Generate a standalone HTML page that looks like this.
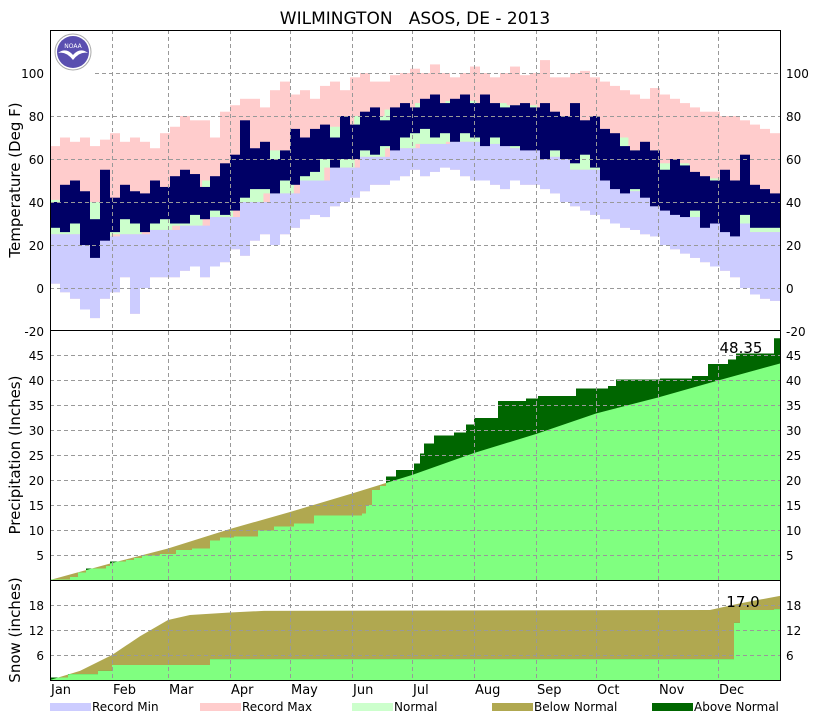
<!DOCTYPE html>
<html><head><meta charset="utf-8"><style>
body{margin:0;background:#fff;}
svg text{font-family:"DejaVu Sans","Liberation Sans",sans-serif;}
</style></head><body>
<svg id="c" width="830" height="720" xmlns="http://www.w3.org/2000/svg"></svg>
<script>
// ---- data ----
const months=["Jan","Feb","Mar","Apr","May","Jun","Jul","Aug","Sep","Oct","Nov","Dec"];
const monthStartDays=[0,31,59,90,120,151,181,212,243,273,304,334];
const tempTicks=[-20,0,20,40,60,80,100];
const precipTicks=[5,10,15,20,25,30,35,40,45];
const snowTicks=[6,12,18];
// 5-day bins (73)
const recMax=[66,70,68,70,66,69, 72,68,70,68,65,72, 75,80,78,78,70,82, 85,88,88,84,92,96, 90,92,88,94,96,92, 98,100,96,96,99,100, 102,100,104,100,98,100, 103,100,98,100,103,99, 100,106,98,98,100,101, 98,96,94,92,90,88, 93,90,88,86,84,82, 82,80,80,78,76,74, 72];
const recMin=[2,-2,-5,-10,-14,-5, -2,5,-12,0,5,5, 5,8,10,5,10,12, 18,15,22,25,20,25, 28,32,34,33,38,40, 42,45,48,48,50,52, 55,52,54,56,55,52, 50,50,48,46,50,48, 48,46,44,40,38,36, 34,32,30,28,27,25, 24,20,18,16,14,12, 10,8,5,0,-3,-5, -6];
const actHigh=[40,48,50,45,32,55, 42,48,45,44,50,47, 52,55,53,47,52,58, 62,78,65,68,60,64, 74,70,74,76,70,80, 76,82,84,78,84,86, 84,88,90,86,88,90, 86,90,86,84,85,86, 84,86,82,80,86,78, 80,74,72,66,64,68, 64,55,60,57,54,52, 50,55,50,62,48,46, 44];
const actLow=[28,26,30,20,14,22, 26,32,30,26,30,32, 30,30,34,32,36,34, 36,42,46,46,44,50, 48,52,54,60,56,60, 60,64,62,66,64,70, 72,74,70,72,68,72, 70,66,70,66,66,64, 64,60,64,60,58,62, 56,50,46,44,46,42, 38,36,34,33,36,28, 30,26,24,34,28,28, 28];
// half-month normals (24)
const normHigh=[41,40,41,43,46,50,58,64,70,75,80,83,86,87,86,85,80,76,70,64,58,51,47,42];
const normLow=[25,24,25,27,29,33,40,44,50,56,61,65,67,68,67,65,61,55,50,45,38,33,30,26];
// precipitation cumulative
const precipNormMonthly=[0,3.4,6.3,10.2,13.6,17.3,21.0,25.4,29.2,33.3,36.5,39.9,43.3];
const precipObsDays=[0,10,14,18,28,30,38,42,46,55,63,71,80,85,92,104,112,122,132,156,158,161,165,168,173,182,185,187,192,202,208,212,224,238,244,263,279,283,305,321,329,339,343,362];
const precipObsVals=[0.1,0.6,1.5,2.3,2.8,3.7,4.0,4.4,4.9,5.2,6.0,6.3,7.9,8.5,8.7,9.9,10.7,11.3,12.9,13.3,15.0,18.0,18.8,20.7,22.0,23.3,25.3,27.3,28.9,29.5,31.1,32.4,35.8,36.3,36.8,38.3,38.8,40.1,40.3,40.8,43.2,44.1,45.3,48.35];
// snow cumulative
const snowNormDays=[0,15,31,45,59,70,90,107,330,345,365];
const snowNormVals=[0,2.2,6.0,10.5,14.4,15.6,16.2,16.6,16.8,18.4,20.2];
const snowObsDays=[0,9,24,31,80,342,345,362];
const snowObsVals=[0.6,1.4,2.2,3.6,5.0,13.7,16.8,17.0];

// ---- geometry ----
const X0=50,X1=780;
const xd=d=>X0+d*2;
const yT=t=>331-(t+20)*2.15;
const yP=p=>580-p*5;
const yS=s=>680-s*25/6;
const svg=document.getElementById('c');
const NS='http://www.w3.org/2000/svg';
function mk(tag,attrs,name,parent){const e=document.createElementNS(NS,tag);for(const k in attrs)e.setAttribute(k,attrs[k]);


(parent||svg).appendChild(e);return e;}
function txt(x,y,s,size,anchor,name,extra){const t=mk('text',Object.assign({x:x,y:y,'font-size':size,'text-anchor':anchor||'start',fill:'#000'},extra||{}),name);t.textContent=s;return t;}

// ---- temperature panel ----
const gT=mk('g',{},'temperature-panel');
const binDays=5;
recMax.forEach((v,i)=>{mk('rect',{x:xd(i*binDays),y:yT(v),width:Math.min(10,X1-xd(i*binDays)),height:yT(recMin[i])-yT(v),fill:'#ffcccc'},'record-max-bar',gT);});
const hw=365/24;
normHigh.forEach((v,i)=>{const x=xd(i*hw);mk('rect',{x:x,y:yT(v),width:hw*2+0.5,height:yT(normLow[i])-yT(v),fill:'#ccffcc'},'normal-bar',gT);});
recMin.forEach((v,i)=>{const nl=normLow[Math.min(23,Math.floor(i*binDays/hw))];mk('rect',{x:xd(i*binDays),y:yT(nl),width:Math.min(10,X1-xd(i*binDays)),height:Math.max(0,yT(v)-yT(nl)),fill:'#ccccff'},'record-min-bar',gT);});
actHigh.forEach((v,i)=>{mk('rect',{x:xd(i*binDays),y:yT(v),width:Math.min(10,X1-xd(i*binDays)),height:yT(actLow[i])-yT(v),fill:'#000066'},'observed-temp-bar',gT);});

// ---- precip panel ----
function stepPath(days,vals,ys,base){let d='M'+xd(days[0])+','+base;for(let i=0;i<days.length;i++){const x1=xd(days[i]);const x2=i+1<days.length?xd(days[i+1]):X1;d+=' L'+x1+','+ys(vals[i])+' L'+x2+','+ys(vals[i]);}d+=' L'+X1+','+base+' Z';return d;}
function linePath(days,vals,ys,base){let d='M'+xd(days[0])+','+base;for(let i=0;i<days.length;i++)d+=' L'+xd(days[i])+','+ys(vals[i]);d+=' L'+X1+','+base+' Z';return d;}
const clipP=mk('clipPath',{id:'clipObsP'},'precip-clip');
mk('path',{d:stepPath(precipObsDays,precipObsVals,yP,580)},'precip-clip-path',clipP);
mk('path',{d:linePath(monthStartDays.concat([365]),precipNormMonthly,yP,580),fill:'#b0a850'},'precip-normal-area');
mk('path',{d:stepPath(precipObsDays,precipObsVals,yP,580),fill:'#006600'},'precip-observed-area');
mk('path',{d:linePath(monthStartDays.concat([365]),precipNormMonthly,yP,580),fill:'#80ff80','clip-path':'url(#clipObsP)'},'precip-below-area');
// ---- snow panel ----
const clipS=mk('clipPath',{id:'clipObsS'},'snow-clip');
mk('path',{d:stepPath(snowObsDays,snowObsVals,yS,680)},'snow-clip-path',clipS);
mk('path',{d:linePath(snowNormDays,snowNormVals,yS,680),fill:'#b0a850'},'snow-normal-area');
mk('path',{d:stepPath(snowObsDays,snowObsVals,yS,680),fill:'#006600'},'snow-observed-area');
mk('path',{d:linePath(snowNormDays,snowNormVals,yS,680),fill:'#80ff80','clip-path':'url(#clipObsS)'},'snow-below-area');

// ---- grids ----
const dash={stroke:'#999','stroke-dasharray':'4,3','stroke-width':1,fill:'none'};
tempTicks.slice(1).forEach(t=>{mk('line',Object.assign({x1:t==100?95:X0,x2:X1,y1:yT(t)+0.5,y2:yT(t)+0.5},dash),'temp-gridline');});
precipTicks.forEach(t=>{mk('line',Object.assign({x1:X0,x2:X1,y1:yP(t)+0.5,y2:yP(t)+0.5},dash),'precip-gridline');});
snowTicks.forEach(t=>{mk('line',Object.assign({x1:X0,x2:X1,y1:yS(t)+0.5,y2:yS(t)+0.5},dash),'snow-gridline');});
monthStartDays.slice(1).forEach(d=>{mk('line',Object.assign({x1:xd(d)+0.5,x2:xd(d)+0.5,y1:30,y2:680},dash),'month-gridline');});
// frames
mk('rect',{x:X0+0.5,y:30.5,width:X1-X0,height:650,fill:'none',stroke:'#000','stroke-width':1},'plot-frame');
mk('line',{x1:X0,x2:X1,y1:330.5,y2:330.5,stroke:'#000'},'panel-divider');
mk('line',{x1:X0,x2:X1,y1:580.5,y2:580.5,stroke:'#000'},'panel-divider');

// ---- labels ----
txt(415,24,'WILMINGTON   ASOS, DE - 2013',17,'middle','chart-title',{style:'white-space:pre'});
tempTicks.forEach(t=>{txt(44,yT(t)+5,String(t),12,'end','temp-tick-left');txt(786,yT(t)+5,String(t),12,'start','temp-tick-right');});
precipTicks.forEach(t=>{txt(44,yP(t)+5,String(t),12,'end','precip-tick-left');txt(786,yP(t)+5,String(t),12,'start','precip-tick-right');});
snowTicks.forEach(t=>{txt(44,yS(t)+5,String(t),12,'end','snow-tick-left');txt(786,yS(t)+5,String(t),12,'start','snow-tick-right');});
months.forEach((m,i)=>{txt(xd(monthStartDays[i])+1,694,m,13,'start','month-label',{'font-family':'Liberation Sans, sans-serif'});});
txt(20,180,'Temperature (Deg F)',15,'middle','temp-axis-title',{transform:'rotate(-90 20 180)'});
txt(20,455,'Precipitation (Inches)',15,'middle','precip-axis-title',{transform:'rotate(-90 20 455)'});
txt(20,630,'Snow (inches)',15,'middle','snow-axis-title',{transform:'rotate(-90 20 630)'});
txt(741,353,'48.35',15,'middle','precip-total-label');
txt(743,607,'17.0',15,'middle','snow-total-label');

// logo
const lg=mk('g',{},'noaa-logo');
mk('circle',{cx:73,cy:52,r:18,fill:'#fff',stroke:'#aaa'},'logo-ring',lg);
mk('circle',{cx:73,cy:52,r:16,fill:'#5a4fb0'},'logo-circle',lg);
mk('path',{d:'M58,53 Q66,47 73,55 Q80,47 88,53 Q80,51 73,60 Q66,51 58,53 Z',fill:'#fff'},'logo-bird',lg);
txt(73,48,'NOAA',6,'middle','logo-text',{fill:'#fff'});

// legend
const leg=[['Record Min','#ccccff',50],['Record Max','#ffcccc',200],['Normal','#ccffcc',352],['Below Normal','#b0a850',492],['Above Normal','#006600',652]];
leg.forEach(l=>{mk('rect',{x:l[2],y:703,width:41,height:8,fill:l[1]},'legend-swatch');txt(l[2]+42,711,l[0],12,'start','legend-entry',{'font-family':'Liberation Sans, sans-serif'});});
</script>
</body></html>
